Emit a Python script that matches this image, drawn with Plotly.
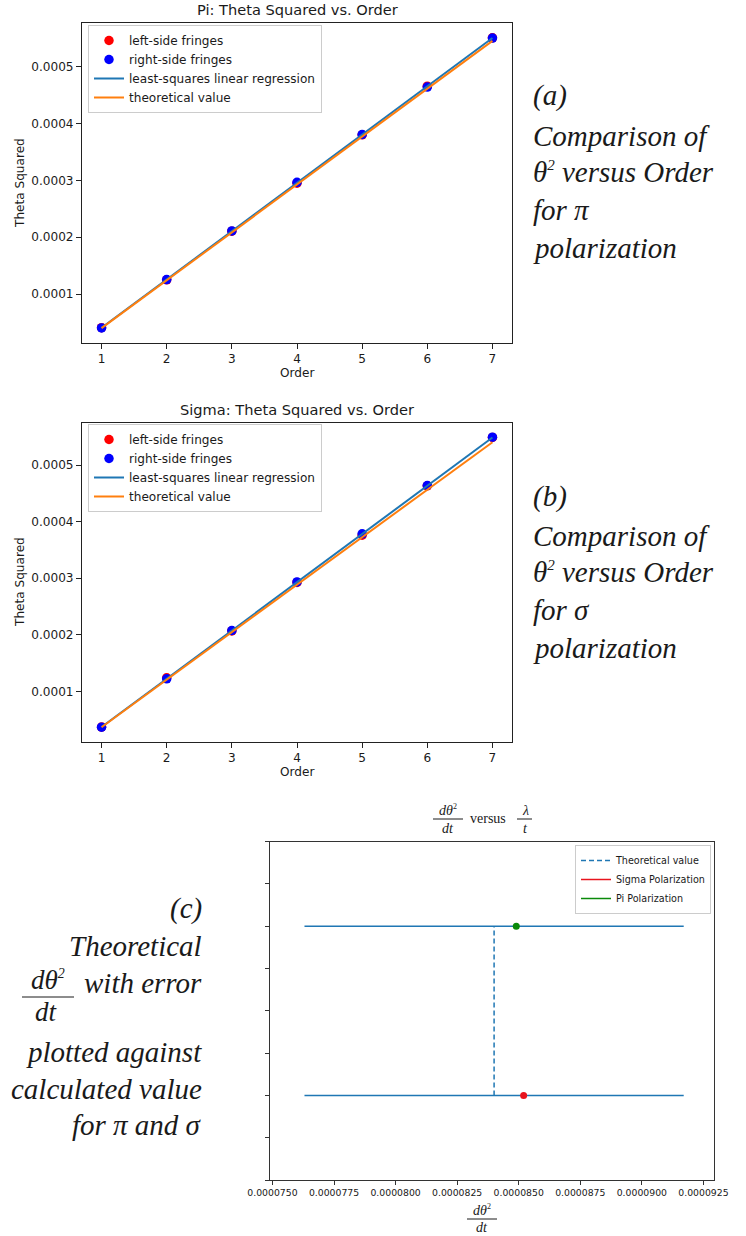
import numpy as np
import plotly.graph_objects as go

W, H = 746, 1236

# ---------------- data ----------------
orders = [1, 2, 3, 4, 5, 6, 7]

pi_left = [0.0000408, 0.0001250, 0.0002105, 0.0002950, 0.0003800, 0.0004655, 0.0005505]
pi_right = [0.0000405, 0.0001255, 0.0002110, 0.0002965, 0.0003805, 0.0004640, 0.0005500]
pi_theory = [0.0000400, 0.0001242, 0.0002084, 0.0002926, 0.0003768, 0.0004610, 0.0005452]

sigma_left = [0.0000368, 0.0001238, 0.0002068, 0.0002925, 0.0003760, 0.0004635, 0.0005490]
sigma_right = [0.0000365, 0.0001220, 0.0002075, 0.0002935, 0.0003785, 0.0004640, 0.0005494]
sigma_theory = [0.0000365, 0.0001205, 0.0002045, 0.0002885, 0.0003725, 0.0004565, 0.0005405]

theory_rate = 0.0000840      # theoretical d(theta^2)/dt
theory_err = 0.0000077       # its uncertainty
rate_labels = ["Sigma Polarization", "Pi Polarization"]
rate_values = [0.0000852, 0.0000849]
rate_levels = [0, 1]
rate_colors = ["#e8141e", "#0a8a0a"]

BLUE = "#1f77b4"
ORANGE = "#ff7f0e"
SANS = "DejaVu Sans"
SERIF = "Liberation Serif"
TXT = "#1a1a1a"
FS = 12.1


def px(x):
    return x / W


def py(y):
    return 1 - y / H


fig = go.Figure()


def theta_panel(left, right, theory, xa, ya, leg):
    fig.add_trace(go.Scatter(x=orders, y=left, mode="markers", name="left-side fringes",
                             marker=dict(color="red", size=9.5), xaxis=xa, yaxis=ya, legend=leg))
    fig.add_trace(go.Scatter(x=orders, y=right, mode="markers", name="right-side fringes",
                             marker=dict(color="blue", size=9.5), xaxis=xa, yaxis=ya, legend=leg))
    allx = np.array(orders + orders, dtype=float)
    ally = np.array(left + right, dtype=float)
    m, b = np.polyfit(allx, ally, 1)
    fit = [m * o + b for o in orders]
    fig.add_trace(go.Scatter(x=orders, y=fit, mode="lines", name="least-squares linear regression",
                             line=dict(color=BLUE, width=2), xaxis=xa, yaxis=ya, legend=leg))
    fig.add_trace(go.Scatter(x=orders, y=theory, mode="lines", name="theoretical value",
                             line=dict(color=ORANGE, width=2), xaxis=xa, yaxis=ya, legend=leg))
    vals = left + right + theory
    lo, hi = min(vals), max(vals)
    pad = 0.05 * (hi - lo)
    return [lo - pad, hi + pad]


yr1 = theta_panel(pi_left, pi_right, pi_theory, "x", "y", "legend")
yr2 = theta_panel(sigma_left, sigma_right, sigma_theory, "x2", "y2", "legend2")

# panel (c)
fig.add_trace(go.Scatter(x=[theory_rate, theory_rate], y=rate_levels, mode="lines",
                         name="Theoretical value",
                         line=dict(color=BLUE, width=1.5, dash="5px,3px"),
                         error_x=dict(type="constant", value=theory_err, color=BLUE,
                                      thickness=1.5, width=0),
                         xaxis="x3", yaxis="y3", legend="legend3"))
for lab, v, lvl, c in zip(rate_labels, rate_values, rate_levels, rate_colors):
    fig.add_trace(go.Scatter(x=[v], y=[lvl], mode="markers", name=lab, showlegend=False,
                             marker=dict(color=c, size=7), xaxis="x3", yaxis="y3"))
    fig.add_trace(go.Scatter(x=[None], y=[None], mode="lines", name=lab,
                             line=dict(color=c, width=1.5),
                             xaxis="x3", yaxis="y3", legend="legend3"))

axis_common = dict(showline=True, linecolor="#222", linewidth=1, mirror=True,
                   ticks="outside", ticklen=5, tickcolor="#222", showgrid=False,
                   zeroline=False, automargin=False,
                   tickfont=dict(family=SANS, size=FS, color=TXT))
axis_c = {k: v for k, v in axis_common.items() if k != "tickfont"}
axis_c.update(ticklen=4, linecolor="#333", tickcolor="#333")

fig.update_layout(
    width=W, height=H, autosize=False, margin=dict(l=0, r=0, t=0, b=0, pad=0, autoexpand=False),
    paper_bgcolor="white", plot_bgcolor="white", showlegend=True,
    xaxis=dict(domain=[px(82), px(512)], range=[0.7, 7.3], dtick=1, anchor="y", **axis_common),
    yaxis=dict(domain=[py(342.7), py(23.3)], range=yr1, tick0=0, dtick=0.0001,
               tickformat=".4f", anchor="x", **axis_common),
    xaxis2=dict(domain=[px(82), px(512)], range=[0.7, 7.3], dtick=1, anchor="y2", **axis_common),
    yaxis2=dict(domain=[py(741.7), py(422.7)], range=yr2, tick0=0, dtick=0.0001,
                tickformat=".4f", anchor="x2", **axis_common),
    xaxis3=dict(domain=[px(270), px(714)], range=[0.0000749, 0.00009293], tick0=0.000075,
                dtick=0.0000025, tickformat=".7f", anchor="y3",
                tickfont=dict(family=SANS, size=9.3, color=TXT), **axis_c),
    yaxis3=dict(domain=[py(1180), py(841.7)], range=[-0.5, 1.5], tick0=-0.5, dtick=0.25,
                showticklabels=False, anchor="x3", **axis_c),
    legend=dict(x=px(88), y=py(25), xanchor="left", yanchor="top",
                bgcolor="rgba(255,255,255,0.85)", bordercolor="#cccccc", borderwidth=1,
                font=dict(family=SANS, size=FS, color=TXT), tracegroupgap=0),
    legend2=dict(x=px(88), y=py(424), xanchor="left", yanchor="top",
                 bgcolor="rgba(255,255,255,0.85)", bordercolor="#cccccc", borderwidth=1,
                 font=dict(family=SANS, size=FS, color=TXT), tracegroupgap=0),
    legend3=dict(x=px(711), y=py(845), xanchor="right", yanchor="top",
                 bgcolor="rgba(255,255,255,0.85)", bordercolor="#cccccc", borderwidth=1,
                 font=dict(family=SANS, size=9.6, color=TXT), tracegroupgap=0),
)

ann = []


def text(x, y, s, size, family=SANS, xanchor="center", angle=0, italic=False, color=TXT):
    ann.append(dict(x=px(x), y=py(y), xref="paper", yref="paper", text=s, showarrow=False,
                    xanchor=xanchor, yanchor="middle", textangle=angle,
                    font=dict(family=family, size=size, color=color,
                              style="italic" if italic else "normal")))


def sq(sz):
    return "<sup><span style='font-size:%dpx'>2</span></sup>" % sz


# titles and axis labels for (a) and (b)
text(297, 10, "Pi: Theta Squared vs. Order", 14.6)
text(297, 409, "Sigma: Theta Squared vs. Order", 14.6)
text(297, 373, "Order", FS)
text(297, 772, "Order", FS)
text(20, 183, "Theta Squared", FS, angle=-90)
text(20, 582, "Theta Squared", FS, angle=-90)

# side captions (a) and (b)
cap_a = ["(a)", "Comparison of", "θ" + sq(15) + " versus Order", "for π", "polarization"]
cap_b = ["(b)", "Comparison of", "θ" + sq(15) + " versus Order", "for σ", "polarization"]
cap_y = [96, 136, 172, 210, 248]
for s, y in zip(cap_a, cap_y):
    text(531, y, s, 29, family=SERIF, xanchor="left", italic=True)
for s, y in zip(cap_b, cap_y):
    text(531, y + 400, s, 29, family=SERIF, xanchor="left", italic=True)

# caption (c)
cap_c = [("(c)", 908), ("Theoretical", 946), ("with error", 983),
         ("plotted against", 1052), ("calculated value", 1089), ("for π and σ", 1125)]
for s, y in cap_c:
    text(204, y, s, 29, family=SERIF, xanchor="right", italic=True)
text(48, 980, "dθ" + sq(14), 27, family=SERIF, italic=True)
text(46, 1012, "dt", 27, family=SERIF, italic=True)

# panel (c) title and x label as stacked fractions
text(448, 810, "<i>dθ</i>" + sq(8), 14, family=SERIF)
text(448, 828, "<i>dt</i>", 14, family=SERIF)
text(488, 818, "versus", 14, family=SERIF)
text(525, 810, "<i>λ</i>", 14, family=SERIF)
text(525, 828, "<i>t</i>", 14, family=SERIF)
text(482, 1210, "<i>dθ</i>" + sq(8), 14, family=SERIF)
text(482, 1227, "<i>dt</i>", 14, family=SERIF)

fig.update_layout(annotations=ann)

bars = [(22, 74, 997), (433, 463, 819), (517, 532, 819), (467, 497, 1219)]
for x0, x1, y in bars:
    fig.add_shape(type="line", xref="paper", yref="paper", x0=px(x0), x1=px(x1),
                  y0=py(y), y1=py(y), line=dict(color=TXT, width=1))

fig.write_html(
    "out.html",
    config={"displayModeBar": False},
    post_script="document.body.style.margin='0';document.body.style.overflow='hidden';",
)
